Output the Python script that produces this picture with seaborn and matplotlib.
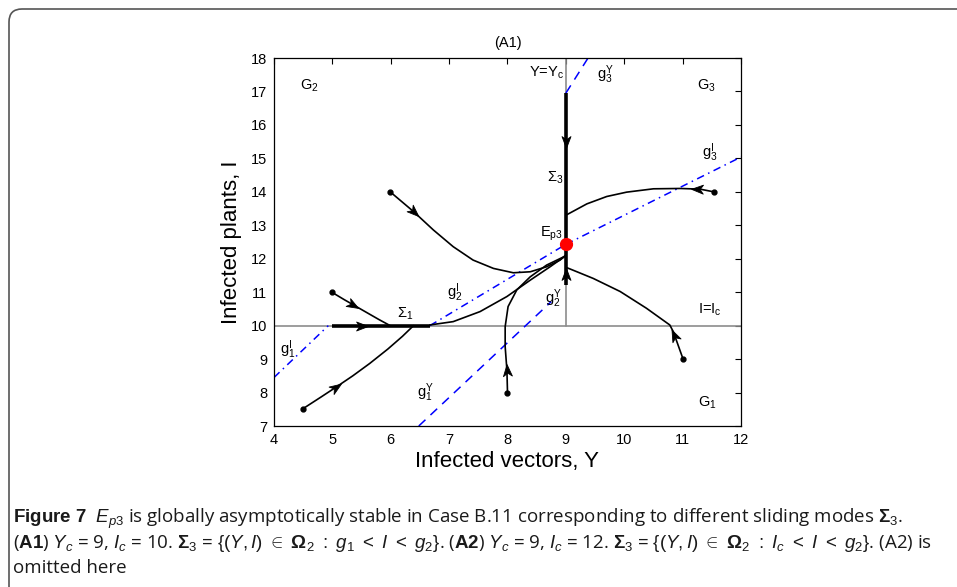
import numpy as np
import pandas as pd
import matplotlib
matplotlib.use("Agg")
import matplotlib.pyplot as plt
from matplotlib.patches import FancyBboxPatch
from matplotlib.markers import MarkerStyle
from matplotlib.path import Path
from matplotlib.transforms import Affine2D
import seaborn as sns

sns.set_theme(style="white")
plt.rcParams["font.family"] = ["Liberation Sans", "DejaVu Sans"]
plt.rcParams["mathtext.fontset"] = "custom"
plt.rcParams["mathtext.rm"] = "Liberation Sans"
plt.rcParams["mathtext.it"] = "Liberation Sans:italic"
plt.rcParams["mathtext.bf"] = "Liberation Sans:bold"
plt.rcParams["mathtext.bfit"] = "Liberation Sans:italic:bold"
plt.rcParams["mathtext.default"] = "rm"

# ---- thresholds ----
Y_c = 9
I_c = 10
E_p3 = (9.0, 12.43)

# ---- isoclines (Y, I) ----
g1_I_y = [4.0, 4.93]
g1_I_i = [8.45, 10.0]
g2_I_y = [6.67, 9.0]
g2_I_i = [10.0, 12.43]
g3_I_y = [9.0, 12.0]
g3_I_i = [12.43, 15.04]
g12_Y_y = [6.48, 8.75]
g12_Y_i = [7.0, 10.72]
g3_Y_y = [9.0, 9.38]
g3_Y_i = [16.95, 18.0]

# ---- sliding segments ----
sigma1_y = [5.0, 6.67]
sigma1_i = [10.0, 10.0]
sigma3_y = [9.0, 9.0]
sigma3_i = [11.2, 16.95]

# ---- trajectories (Y, I) ----
traj_a_y = [5.99, 6.39, 6.73, 7.07, 7.41, 7.76, 8.10, 8.39, 8.67, 8.90, 9.0]
traj_a_i = [14.0, 13.41, 12.86, 12.36, 11.96, 11.71, 11.58, 11.61, 11.76, 11.96, 12.11]
traj_b_y = [4.99, 5.2, 5.36, 5.6, 5.8, 5.99]
traj_b_i = [11.0, 10.78, 10.62, 10.38, 10.18, 10.0]
traj_c_y = [4.49, 4.8, 5.07, 5.35, 5.64, 5.95, 6.2, 6.39]
traj_c_i = [7.51, 7.86, 8.17, 8.5, 8.87, 9.3, 9.68, 10.0]
traj_d_y = [6.67, 7.07, 7.53, 7.99, 8.39, 8.73, 8.99]
traj_d_i = [10.02, 10.12, 10.42, 10.87, 11.36, 11.76, 12.08]
traj_e_y = [8.0, 7.99, 7.96, 7.96, 8.01, 8.16, 8.39, 8.67, 8.99]
traj_e_i = [8.0, 8.67, 9.37, 9.97, 10.57, 11.07, 11.46, 11.81, 12.08]
traj_f_y = [11.01, 10.84, 10.78, 10.38, 9.93, 9.47, 9.19, 9.02]
traj_f_i = [8.99, 9.82, 10.02, 10.52, 11.02, 11.41, 11.61, 11.73]
traj_g_y = [11.53, 11.30, 10.96, 10.50, 10.04, 9.70, 9.36, 9.01]
traj_g_i = [14.0, 14.08, 14.1, 14.09, 13.99, 13.86, 13.64, 13.31]

# arrow heads: position and a second point giving direction
arrow_pos = [(6.39, 13.41), (5.36, 10.62), (5.07, 8.17), (5.5, 10.0),
             (7.99, 8.67), (10.86, 9.72), (11.25, 14.085), (9.0, 15.5), (9.0, 11.55)]
arrow_dir = [(6.73, 12.86), (5.6, 10.38), (5.35, 8.5), (6.0, 10.0),
             (7.96, 9.37), (10.78, 10.02), (10.96, 14.1), (9.0, 15.0), (9.0, 12.0)]

fig = plt.figure(figsize=(9.57, 5.87), dpi=100)
ax = fig.add_axes([274 / 957, 1 - 426 / 587, (741 - 274) / 957, (426 - 58) / 587])
ax.set_xlim(4, 12)
ax.set_ylim(7, 18)

# switching lines
ax.plot([4, 12], [I_c, I_c], color="#8c8c8c", lw=1.2, zorder=1)
ax.plot([Y_c, Y_c], [I_c, 18], color="#8c8c8c", lw=1.2, zorder=1)

# isoclines
blue = "#0000ff"
for yy, ii in [(g1_I_y, g1_I_i), (g2_I_y, g2_I_i), (g3_I_y, g3_I_i)]:
    ax.plot(yy, ii, color=blue, lw=1.1, linestyle=(0, (5, 3, 1, 3)), zorder=2)
for yy, ii in [(g12_Y_y, g12_Y_i), (g3_Y_y, g3_Y_i)]:
    ax.plot(yy, ii, color=blue, lw=1.1, linestyle=(0, (6, 4.5)), zorder=2)

# trajectories via seaborn
trajs = [(traj_a_y, traj_a_i), (traj_b_y, traj_b_i), (traj_c_y, traj_c_i),
         (traj_d_y, traj_d_i), (traj_e_y, traj_e_i), (traj_f_y, traj_f_i),
         (traj_g_y, traj_g_i)]
for yy, ii in trajs:
    df = pd.DataFrame({"Y": yy, "I": ii})
    sns.lineplot(data=df, x="Y", y="I", sort=False, estimator=None,
                 color="black", lw=1.2, ax=ax, zorder=3)
# initial points
for yy, ii in [trajs[0], trajs[1], trajs[2], trajs[4], trajs[5], trajs[6]]:
    ax.plot(yy[0], ii[0], "o", color="black", ms=3.5, zorder=4)

# sliding segments
ax.plot(sigma1_y, sigma1_i, color="black", lw=2.6, solid_capstyle="butt", zorder=4)
ax.plot(sigma3_y, sigma3_i, color="black", lw=2.6, solid_capstyle="butt", zorder=4)

# arrow heads (notched)
head = Path([(0.0, 0.0), (-1.0, 0.38), (-0.72, 0.0), (-1.0, -0.38), (0.0, 0.0)],
            [Path.MOVETO, Path.LINETO, Path.LINETO, Path.LINETO, Path.CLOSEPOLY])
fig.canvas.draw()
for (x0, y0), (x1, y1) in zip(arrow_pos, arrow_dir):
    p0 = ax.transData.transform((x0, y0))
    p1 = ax.transData.transform((x1, y1))
    ang = np.degrees(np.arctan2(p1[1] - p0[1], p1[0] - p0[0]))
    m = MarkerStyle(head, transform=Affine2D().translate(0.25, 0).rotate_deg(ang))
    ax.plot(x0, y0, marker=m, ms=17, color="black", mew=0.6, zorder=5)

# equilibrium
ax.plot(*E_p3, "o", color="#ff0000", ms=8.5, zorder=6, mec="#ff0000")

# region and curve labels
fs = 10.5
labels = [
    (4.6, 17.16, r"G$_{2}$", "center"),
    (11.41, 17.16, r"G$_{3}$", "center"),
    (11.43, 7.69, r"G$_{1}$", "center"),
    (8.97, 17.55, r"Y=Y$_{c}$", "right"),
    (9.67, 17.49, r"g$_{3}^{Y}$", "center"),
    (11.47, 15.16, r"g$_{3}^{I}$", "center"),
    (8.81, 14.41, r"$\Sigma_{3}$", "center"),
    (8.76, 12.74, r"E$_{p3}$", "center"),
    (7.1, 10.98, r"g$_{2}^{I}$", "center"),
    (8.78, 10.8, r"g$_{2}^{Y}$", "center"),
    (6.24, 10.35, r"$\Sigma_{1}$", "center"),
    (11.47, 10.47, r"I=I$_{c}$", "center"),
    (4.24, 9.27, r"g$_{1}^{I}$", "center"),
    (6.6, 8.0, r"g$_{1}^{Y}$", "center"),
]
for x, y, s, ha in labels:
    ax.text(x, y, s, fontsize=fs, ha=ha, va="center", color="black", zorder=7)

ax.set_xticks(range(4, 13))
ax.set_yticks(range(7, 19))
ax.tick_params(direction="in", length=4, width=0.8, top=True, right=True,
               labelsize=10.5, colors="black", pad=5)
for sp in ax.spines.values():
    sp.set_color("black")
    sp.set_linewidth(0.9)
ax.set_xlabel("Infected vectors, Y", fontsize=16, labelpad=3, color="black")
ax.set_ylabel("Infected plants, I", fontsize=16, labelpad=6, color="black")
ax.set_title("(A1)", fontsize=10.5, pad=8, color="black")

# rounded frame around the figure panel
frame = FancyBboxPatch((0.09, -0.6), 10.0, 5.78 + 0.6,
                       boxstyle="round,pad=0,rounding_size=0.13",
                       transform=fig.dpi_scale_trans, fill=False,
                       edgecolor="#555555", lw=1.2, clip_on=False)
fig.add_artist(frame)

# caption
cap_kw = dict(fontsize=13.5, color="#1a1a1a", ha="left", va="baseline",
              family=["Open Sans", "DejaVu Sans"])
line1 = (r"$\mathbf{Figure\ 7}$  $\mathit{E_{p3}}$ is globally asymptotically stable in Case B.11 "
         r"corresponding to different sliding modes $\boldsymbol{\Sigma}_{3}$.")
set1 = (r"$\{(\mathit{Y}, \mathit{I})\ \in\ \boldsymbol{\Omega}_{2}\ :\ "
        r"\mathit{g}_{1}\ <\ \mathit{I}\ <\ \mathit{g}_{2}\}$")
set2 = (r"$\{(\mathit{Y}, \mathit{I})\ \in\ \boldsymbol{\Omega}_{2}\ :\ "
        r"\mathit{I_c}\ <\ \mathit{I}\ <\ \mathit{g}_{2}\}$")
line2 = (r"($\mathbf{A1}$) $\mathit{Y_c}$ = 9, $\mathit{I_c}$ = 10. $\boldsymbol{\Sigma}_{3}$ = "
         + set1 + r". ($\mathbf{A2}$) $\mathit{Y_c}$ = 9, $\mathit{I_c}$ = 12. "
         r"$\boldsymbol{\Sigma}_{3}$ = " + set2 + ". (A2) is")
fig.text(13 / 957, 1 - 523 / 587, line1, **cap_kw)
fig.text(13 / 957, 1 - 548 / 587, line2, **cap_kw)
fig.text(13 / 957, 1 - 573 / 587, "omitted here", **cap_kw)

fig.savefig("out.png", dpi=100, facecolor="white")
